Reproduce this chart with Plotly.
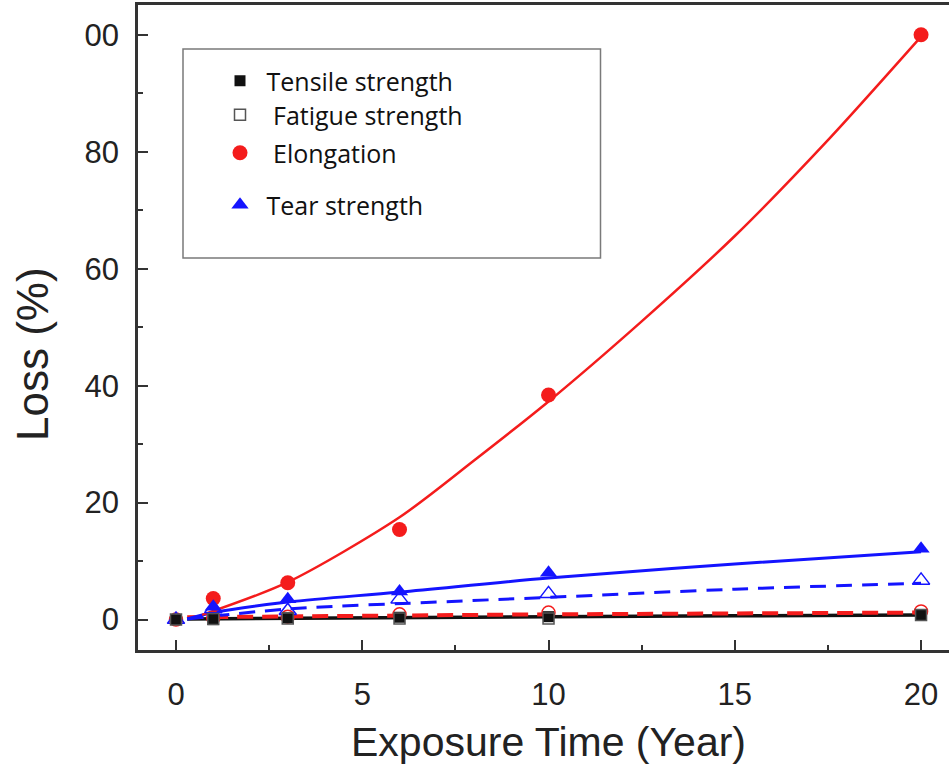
import plotly.graph_objects as go

# ---- data ----
years = [0, 1, 3, 6, 10, 20]
tensile = [0.0, 0.0, 0.3, 0.4, 0.5, 0.7]
fatigue = [0.0, 0.1, 0.2, 0.2, 0.2, 0.8]
elong_x = [1, 3, 6, 10, 20]
elongation = [3.6, 6.3, 15.4, 38.4, 100.0]
tear_x = [1, 3, 6, 10, 20]
tear = [2.2, 3.5, 4.8, 8.0, 12.1]
tear_open = [0.0, 1.8, 1.5, 3.5, 4.4, 6.7]
elong_open = [0.0, 0.3, 0.5, 0.9, 1.2, 1.4]

# fitted curves
elong_fit_x = [0.7, 3, 6, 8, 10, 12.5, 15, 17.5, 20]
elong_fit_y = [0.8, 6.4, 17.5, 27.2, 37.3, 51.0, 65.6, 82.0, 99.7]
tear_fit_x = [0.3, 1, 3, 6, 10, 15, 20]
tear_fit_y = [0.1, 1.2, 3.0, 4.7, 7.1, 9.5, 11.6]
tear_open_fit_x = [0.3, 3, 7.4, 10, 15, 20]
tear_open_fit_y = [0.1, 1.8, 3.1, 3.8, 5.2, 6.2]
tensile_fit_x = [0.3, 5, 10, 15, 20]
tensile_fit_y = [0.1, 0.35, 0.5, 0.65, 0.8]
elong_open_fit_x = [0.3, 5, 10, 15, 20]
elong_open_fit_y = [0.4, 0.7, 0.9, 1.05, 1.2]

y_ticks = [0, 20, 40, 60, 80, 100]
y_ticktext = ["0", "20", "40", "60", "80", "00"]
x_ticks = [0, 5, 10, 15, 20]

RED = "#f41c1c"
BLUE = "#1414ff"
BLACK = "#111111"

fig = go.Figure()

# fit lines
fig.add_trace(go.Scatter(x=tensile_fit_x, y=tensile_fit_y, mode="lines", showlegend=False,
                         line=dict(color=BLACK, width=3.5)))
fig.add_trace(go.Scatter(x=elong_open_fit_x, y=elong_open_fit_y, mode="lines", showlegend=False,
                         line=dict(color=RED, width=4, dash="16px,9px")))
fig.add_trace(go.Scatter(x=tear_open_fit_x, y=tear_open_fit_y, mode="lines", showlegend=False,
                         line=dict(color=BLUE, width=3, dash="16px,10px", shape="spline")))
fig.add_trace(go.Scatter(x=tear_fit_x, y=tear_fit_y, mode="lines", showlegend=False,
                         line=dict(color=BLUE, width=3, shape="spline")))
fig.add_trace(go.Scatter(x=elong_fit_x, y=elong_fit_y, mode="lines", showlegend=False,
                         line=dict(color=RED, width=2.5, shape="spline", smoothing=0.8)))

# open markers (not in legend)
fig.add_trace(go.Scatter(x=years, y=elong_open, mode="markers", showlegend=False,
                         marker=dict(symbol="circle-open", size=13, color=RED, line=dict(width=1.5))))
fig.add_trace(go.Scatter(x=years, y=tear_open, mode="markers", showlegend=False,
                         marker=dict(symbol="triangle-up-open", size=15, color=BLUE, line=dict(width=1.5))))

# legend marker traces
fig.add_trace(go.Scatter(x=years, y=tensile, mode="markers", name=" Tensile strength", legend="legend",
                         marker=dict(symbol="square", size=11, color=BLACK)))
fig.add_trace(go.Scatter(x=years, y=fatigue, mode="markers", name="  Fatigue strength", legend="legend2",
                         marker=dict(symbol="square-open", size=11, color="#555555", line=dict(width=1.5))))
fig.add_trace(go.Scatter(x=elong_x, y=elongation, mode="markers", name="  Elongation", legend="legend3",
                         marker=dict(symbol="circle", size=15, color=RED)))
fig.add_trace(go.Scatter(x=tear_x, y=tear, mode="markers", name=" Tear strength", legend="legend4",
                         marker=dict(symbol="triangle-up", size=15, color=BLUE)))

L, R, T, B = 138, 0, 5, 114
W, H = 949, 764
pw, ph = W - L - R, H - T - B

def px(xp):
    return (xp - L) / pw

def py(yp):
    return (H - B - yp) / ph

leg_font = dict(family="Open Sans, Noto Sans, sans-serif", size=25, color="#111111")
def leg(ypix):
    return dict(x=px(220), y=py(ypix), xanchor="left", yanchor="middle",
                bgcolor="rgba(0,0,0,0)", borderwidth=0, font=leg_font)

axis_font = dict(family="Liberation Sans, Arial, sans-serif", size=31, color="#222222")

fig.update_layout(
    width=W, height=H,
    margin=dict(l=L, r=R, t=T, b=B),
    plot_bgcolor="white", paper_bgcolor="white",
    legend=leg(81), legend2=leg(115), legend3=leg(153), legend4=leg(205),
    xaxis=dict(range=[-1.02, 20.75], tickvals=x_ticks, ticks="inside", ticklen=10, tickwidth=2,
               tickcolor="#333", showline=True, linecolor="#333", linewidth=2.5, mirror=True,
               showgrid=False, zeroline=False, tickfont=axis_font, ticklabelstandoff=15,
               minor=dict(tickvals=[2.5, 7.5, 12.5, 17.5], ticks="inside", ticklen=5,
                          tickwidth=2, tickcolor="#333")),
    yaxis=dict(range=[-5.2, 105.1], tickvals=y_ticks, ticktext=y_ticktext, ticks="inside",
               ticklen=10, tickwidth=2, tickcolor="#333", showline=True, linecolor="#333",
               linewidth=2.5, showgrid=False, zeroline=False, tickfont=axis_font,
               ticklabelstandoff=10,
               minor=dict(tickvals=[10, 30, 50, 70, 90], ticks="inside", ticklen=5,
                          tickwidth=2, tickcolor="#333")),
    shapes=[dict(type="rect", xref="paper", yref="paper", x0=px(183), x1=px(600.5),
                 y0=py(258), y1=py(49), line=dict(color="#7a7a7a", width=1.5))],
    annotations=[
        dict(text="Exposure Time (Year)", xref="paper", yref="paper", x=px(548), y=py(742),
             showarrow=False, xanchor="center", yanchor="middle",
             font=dict(family="Liberation Sans, Arial, sans-serif", size=41, color="#222222")),
        dict(text="Loss (%)", xref="paper", yref="paper", x=px(32), y=py(354), textangle=-90,
             showarrow=False, xanchor="center", yanchor="middle",
             font=dict(family="Liberation Sans, Arial, sans-serif", size=44, color="#222222")),
    ],
)

fig.write_html("out.html")
